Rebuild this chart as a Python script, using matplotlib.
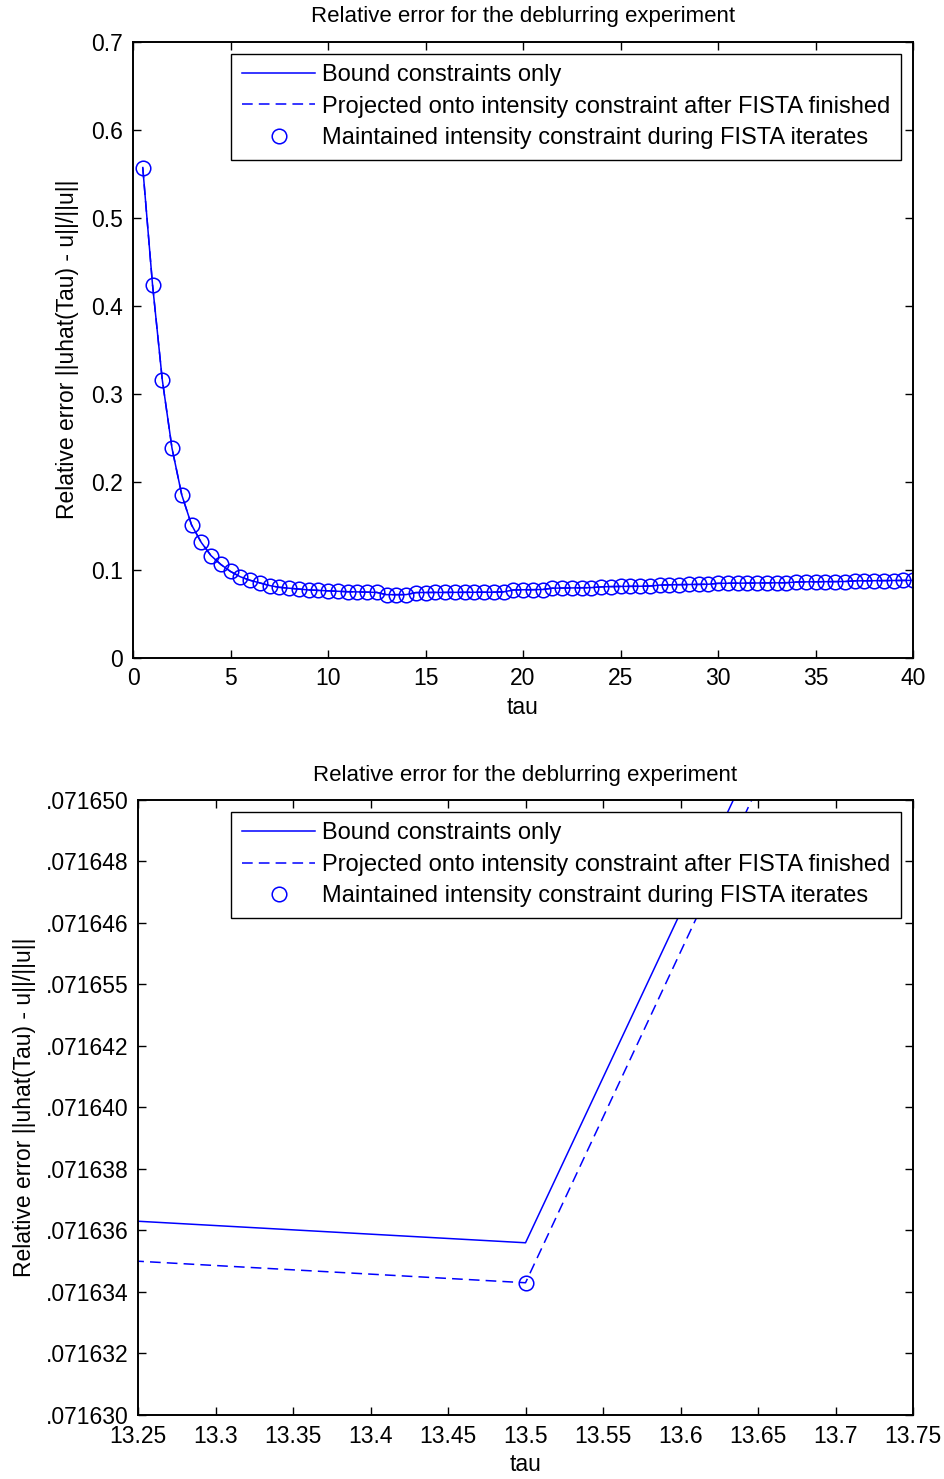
import numpy as np
import matplotlib
matplotlib.use('Agg')
import matplotlib.pyplot as plt

plt.rcParams['font.family'] = ['Liberation Sans', 'DejaVu Sans']

# tau values (0.5 to 40 by 0.5)
tau = [0.5, 1.0, 1.5, 2.0, 2.5, 3.0, 3.5, 4.0, 4.5, 5.0,
       5.5, 6.0, 6.5, 7.0, 7.5, 8.0, 8.5, 9.0, 9.5, 10.0,
       10.5, 11.0, 11.5, 12.0, 12.5, 13.0, 13.5, 14.0, 14.5, 15.0,
       15.5, 16.0, 16.5, 17.0, 17.5, 18.0, 18.5, 19.0, 19.5, 20.0,
       20.5, 21.0, 21.5, 22.0, 22.5, 23.0, 23.5, 24.0, 24.5, 25.0,
       25.5, 26.0, 26.5, 27.0, 27.5, 28.0, 28.5, 29.0, 29.5, 30.0,
       30.5, 31.0, 31.5, 32.0, 32.5, 33.0, 33.5, 34.0, 34.5, 35.0,
       35.5, 36.0, 36.5, 37.0, 37.5, 38.0, 38.5, 39.0, 39.5, 40.0]

err_bound = [0.557, 0.424, 0.316, 0.238, 0.185, 0.151, 0.131, 0.116, 0.106, 0.098,
             0.092, 0.088, 0.085, 0.082, 0.080, 0.079, 0.078, 0.077, 0.0765, 0.0760,
             0.0755, 0.0750, 0.0748, 0.0745, 0.0742, 0.0716370, 0.0716356, 0.0716893, 0.0740, 0.0741,
             0.0742, 0.0742, 0.0743, 0.0743, 0.0744, 0.0744, 0.0745, 0.0748, 0.0770, 0.0772,
             0.0773, 0.0775, 0.0790, 0.0792, 0.0793, 0.0795, 0.0796, 0.0805, 0.0808, 0.0810,
             0.0811, 0.0812, 0.0814, 0.0825, 0.0828, 0.0830, 0.0832, 0.0833, 0.0835, 0.0845,
             0.0846, 0.0847, 0.0848, 0.0849, 0.0850, 0.0851, 0.0852, 0.0860, 0.0862, 0.0863,
             0.0864, 0.0865, 0.0866, 0.0873, 0.0874, 0.0875, 0.0876, 0.0877, 0.0878, 0.0879]

err_projected = [0.557, 0.424, 0.316, 0.238, 0.185, 0.151, 0.131, 0.116, 0.106, 0.098,
                 0.092, 0.088, 0.085, 0.082, 0.080, 0.079, 0.078, 0.077, 0.0765, 0.0760,
                 0.0755, 0.0750, 0.0748, 0.0745, 0.0742, 0.0716357, 0.0716343, 0.0716881, 0.0740, 0.0741,
                 0.0742, 0.0742, 0.0743, 0.0743, 0.0744, 0.0744, 0.0745, 0.0748, 0.0770, 0.0772,
                 0.0773, 0.0775, 0.0790, 0.0792, 0.0793, 0.0795, 0.0796, 0.0805, 0.0808, 0.0810,
                 0.0811, 0.0812, 0.0814, 0.0825, 0.0828, 0.0830, 0.0832, 0.0833, 0.0835, 0.0845,
                 0.0846, 0.0847, 0.0848, 0.0849, 0.0850, 0.0851, 0.0852, 0.0860, 0.0862, 0.0863,
                 0.0864, 0.0865, 0.0866, 0.0873, 0.0874, 0.0875, 0.0876, 0.0877, 0.0878, 0.0879]

err_maintained = [0.557, 0.424, 0.316, 0.238, 0.185, 0.151, 0.131, 0.116, 0.106, 0.098,
                  0.092, 0.088, 0.085, 0.082, 0.080, 0.079, 0.078, 0.077, 0.0765, 0.0760,
                  0.0755, 0.0750, 0.0748, 0.0745, 0.0742, 0.0716357, 0.0716343, 0.0716881, 0.0740, 0.0741,
                  0.0742, 0.0742, 0.0743, 0.0743, 0.0744, 0.0744, 0.0745, 0.0748, 0.0770, 0.0772,
                  0.0773, 0.0775, 0.0790, 0.0792, 0.0793, 0.0795, 0.0796, 0.0805, 0.0808, 0.0810,
                  0.0811, 0.0812, 0.0814, 0.0825, 0.0828, 0.0830, 0.0832, 0.0833, 0.0835, 0.0845,
                  0.0846, 0.0847, 0.0848, 0.0849, 0.0850, 0.0851, 0.0852, 0.0860, 0.0862, 0.0863,
                  0.0864, 0.0865, 0.0866, 0.0873, 0.0874, 0.0875, 0.0876, 0.0877, 0.0878, 0.0879]

series_names = ['Bound constraints only',
                'Projected onto intensity constraint after FISTA finished',
                'Maintained intensity constraint during FISTA iterates']

top_xticks = [0, 5, 10, 15, 20, 25, 30, 35, 40]
top_yticks = [0, 0.1, 0.2, 0.3, 0.4, 0.5, 0.6, 0.7]
top_ylabels = ['0', '0.1', '0.2', '0.3', '0.4', '0.5', '0.6', '0.7']

zoom_xticks = [13.25, 13.3, 13.35, 13.4, 13.45, 13.5, 13.55, 13.6, 13.65, 13.7, 13.75]
zoom_xlabels = ['13.25', '13.3', '13.35', '13.4', '13.45', '13.5', '13.55', '13.6', '13.65', '13.7', '13.75']
zoom_yticks = [0.071630, 0.071632, 0.071634, 0.071636, 0.071638, 0.071640,
               0.071642, 0.071644, 0.071646, 0.071648, 0.071650]
zoom_ylabels = ['.071630', '.071632', '.071634', '.071636', '.071638', '.071640',
                '.071642', '.071655', '.071646', '.071648', '.071650']

title = 'Relative error for the deblurring experiment'
ylab = 'Relative error ||uhat(Tau) - u||/||u||'
blue = (0, 0, 1)
fs = 16.5


def draw(ax):
    ax.plot(tau, err_bound, '-', color=blue, lw=1.1, label=series_names[0])
    ax.plot(tau, err_projected, '--', color=blue, lw=1.1, dashes=(7, 4), label=series_names[1])
    ax.plot(tau, err_maintained, 'o', color=blue, mfc='none', mec=blue, ms=10.5, mew=1.1,
            label=series_names[2])
    for s in ax.spines.values():
        s.set_linewidth(1.4)
    ax.tick_params(direction='in', length=6, width=1, top=True, right=True,
                   labelsize=fs, pad=7)
    ax.set_title(title, fontsize=fs - 0.5, pad=14)
    ax.set_xlabel('tau', fontsize=fs, labelpad=4)
    leg = ax.legend(loc='upper right', fontsize=17, frameon=True, fancybox=False,
                    edgecolor='black', framealpha=1, handlelength=3.1, handletextpad=0.3,
                    labelspacing=0.4, borderpad=0.45, borderaxespad=0.5)
    leg.get_frame().set_linewidth(1.0)


fig = plt.figure(figsize=(9.44, 14.79), dpi=100)

ax1 = fig.add_axes([0.1409, 0.5553, 0.8263, 0.4165])
draw(ax1)
ax1.set_xlim(0, 40)
ax1.set_ylim(0, 0.7)
ax1.set_xticks(top_xticks)
ax1.set_xticklabels([str(t) for t in top_xticks])
ax1.set_yticks(top_yticks)
ax1.set_yticklabels(top_ylabels)
ax1.set_ylabel(ylab, fontsize=fs, labelpad=9)

ax2 = fig.add_axes([0.1462, 0.0433, 0.821, 0.4158])
draw(ax2)
ax2.set_xlim(13.25, 13.75)
ax2.set_ylim(0.071630, 0.071650)
ax2.set_xticks(zoom_xticks)
ax2.set_xticklabels(zoom_xlabels)
ax2.set_yticks(zoom_yticks)
ax2.set_yticklabels(zoom_ylabels)
ax2.set_ylabel(ylab, fontsize=fs, labelpad=7)

fig.savefig('out.png', dpi=100)
